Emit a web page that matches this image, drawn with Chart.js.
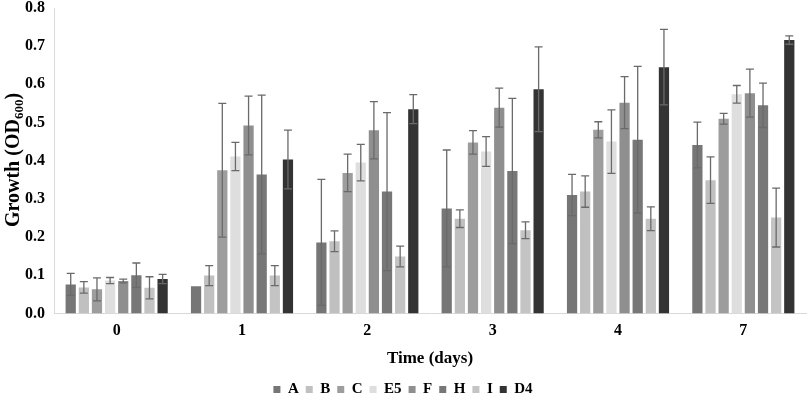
<!DOCTYPE html>
<html><head><meta charset="utf-8">
<script src="https://cdn.jsdelivr.net/npm/chart.js@4"></script>
<style>html,body{margin:0;padding:0;background:#fff;}#wrap{width:809px;height:410px;}</style>
</head><body><div id="wrap"><canvas id="c" width="809" height="410"></canvas></div>
<script>
const categories = ['0','1','2','3','4','7'];
const seriesNames = ['A','B','C','E5','F','H','I','D4'];
const A  = [0.076,0.071,0.186,0.275,0.310,0.441];
const B  = [0.068,0.099,0.189,0.248,0.319,0.349];
const C  = [0.063,0.375,0.368,0.448,0.481,0.510];
const E5 = [0.086,0.411,0.395,0.424,0.450,0.574];
const F  = [0.085,0.492,0.480,0.539,0.552,0.577];
const H  = [0.100,0.364,0.319,0.373,0.455,0.545];
const I  = [0.067,0.099,0.149,0.218,0.248,0.251];
const D4 = [0.090,0.403,0.535,0.587,0.645,0.716];
const errA  = [0.029,0.000,0.165,0.153,0.054,0.060];
const errB  = [0.015,0.026,0.027,0.023,0.041,0.061];
const errC  = [0.030,0.175,0.049,0.031,0.021,0.014];
const errE5 = [0.008,0.037,0.048,0.039,0.083,0.023];
const errF  = [0.005,0.077,0.075,0.051,0.068,0.063];
const errH  = [0.032,0.208,0.207,0.190,0.192,0.058];
const errI  = [0.029,0.026,0.027,0.022,0.031,0.077];
const errD4 = [0.012,0.077,0.038,0.111,0.099,0.011];
const yTicks = [0,0.1,0.2,0.3,0.4,0.5,0.6,0.7,0.8];

const values = [A,B,C,E5,F,H,I,D4];
const errors = [errA,errB,errC,errE5,errF,errH,errI,errD4];
const colors = ['#767676','#c0c0c0','#9d9d9d','#dedede','#8f8f8f','#777777','#c4c4c4','#333333'];
const FONT = '"Liberation Serif","Times New Roman",serif';

const errorBars = {
  id:'errorBars',
  afterDatasetsDraw(chart){
    const ctx = chart.ctx, ys = chart.scales.y;
    ctx.save();
    ctx.strokeStyle = '#6a6a6a';
    ctx.lineWidth = 1.3;
    chart.data.datasets.forEach((ds,di)=>{
      const meta = chart.getDatasetMeta(di);
      if (meta.hidden) return;
      meta.data.forEach((el,i)=>{
        const e = errors[di][i];
        if (!e) return;
        const v = ds.data[i];
        const yt = ys.getPixelForValue(v+e), yb = ys.getPixelForValue(v-e);
        const x = el.x, cw = 4;
        ctx.beginPath();
        ctx.moveTo(x,yt); ctx.lineTo(x,yb);
        ctx.moveTo(x-cw,yt); ctx.lineTo(x+cw,yt);
        ctx.moveTo(x-cw,yb); ctx.lineTo(x+cw,yb);
        ctx.stroke();
      });
    });
    ctx.restore();
  }
};

const yTitle = {
  id:'yTitle',
  afterDraw(chart){
    const ctx = chart.ctx;
    ctx.save();
    ctx.translate(14, 160);
    ctx.rotate(-Math.PI/2);
    ctx.fillStyle = '#000';
    ctx.textBaseline = 'middle';
    const big = 'bold 20px ' + FONT, small = 'bold 13px ' + FONT;
    const p1 = 'Growth (OD', p2 = '600', p3 = ')';
    ctx.font = big; const w1 = ctx.measureText(p1).width, w3 = ctx.measureText(p3).width;
    ctx.font = small; const w2 = ctx.measureText(p2).width;
    let x = -(w1+w2+w3)/2;
    ctx.font = big; ctx.textAlign='left'; ctx.fillText(p1, x, 0); x += w1;
    ctx.font = small; ctx.fillText(p2, x, 6); x += w2;
    ctx.font = big; ctx.fillText(p3, x, 0);
    ctx.restore();
  }
};

new Chart(document.getElementById('c'), {
  type:'bar',
  data:{
    labels: categories,
    datasets: seriesNames.map((n,i)=>({
      label:n, data: values[i], backgroundColor: colors[i], borderWidth:0,
      categoryPercentage:0.838, barPercentage:0.78
    }))
  },
  options:{
    responsive:false, animation:false,
    devicePixelRatio:1,
    layout:{padding:{left:0,right:3,top:8,bottom:3}},
    plugins:{
      legend:{position:'bottom', labels:{boxWidth:7, boxHeight:7, padding:7, color:'#000',
        font:{family:FONT, size:15, weight:'bold'}}},
      tooltip:{enabled:false}
    },
    scales:{
      x:{
        grid:{display:false, drawTicks:false},
        border:{display:true, color:'#d9d9d9', width:1},
        ticks:{color:'#000', font:{family:FONT,size:16,weight:'bold'}, padding:8},
        title:{display:true, text:'Time (days)', color:'#000', font:{family:FONT,size:17,weight:'bold'}, padding:{top:0,bottom:6}}
      },
      y:{
        min:0, max:0.8,
        afterFit(s){ s.width = 54; s.paddingTop = 0; },
        afterBuildTicks(s){ s.ticks = yTicks.map(v=>({value:v})); },
        grid:{display:false, drawTicks:false},
        border:{display:true, color:'#d9d9d9', width:1},
        ticks:{color:'#000', padding:9, font:{family:FONT,size:16,weight:'bold'},
          callback:(v)=>Number(v).toFixed(1)}
      }
    }
  },
  plugins:[errorBars, yTitle]
});
</script>
</body></html>
